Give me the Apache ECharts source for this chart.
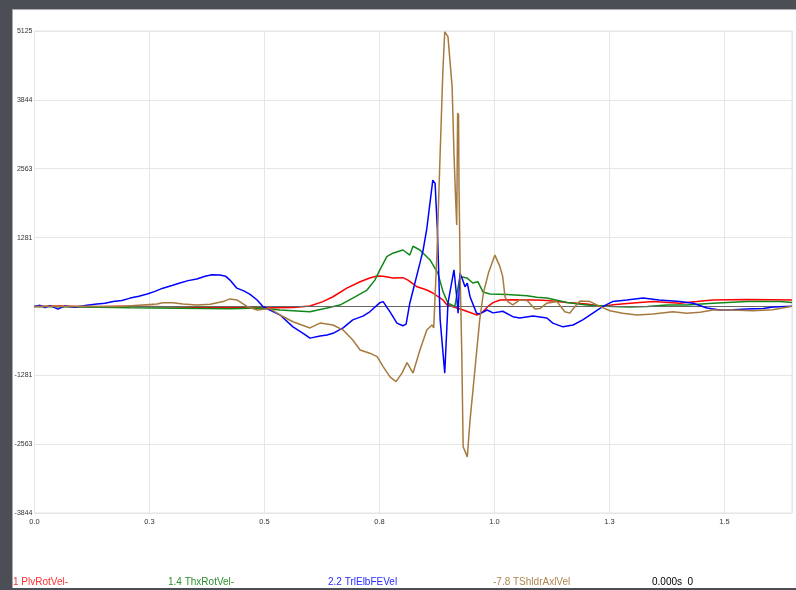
<!DOCTYPE html>
<html>
<head>
<meta charset="utf-8">
<script src="https://cdn.jsdelivr.net/npm/echarts@6/dist/echarts.min.js"></script>
<style>
html,body{margin:0;padding:0;background:#fff;}
#chart{width:796px;height:590px;}
</style>
</head>
<body>
<div id="chart"></div>
<script>
// time (s) / value pairs
var plvRotVel = [
  [0,0],[0.055,10],[0.121,-10],[0.186,5],[0.251,0],[0.316,-10],[0.382,-20],[0.447,-25],
  [0.490,-30],[0.562,-20],[0.599,8],[0.627,90],[0.649,180],[0.679,340],[0.708,460],[0.729,530],
  [0.745,565],[0.758,560],[0.779,530],[0.801,535],[0.812,490],[0.832,365],[0.853,305],[0.866,250],
  [0.888,120],[0.897,25],[0.910,-5],[0.932,-67],[0.962,-160],[0.975,-100],[0.986,0],[0.997,70],
  [1.012,120],[1.040,125],[1.092,120],[1.114,110],[1.158,75],[1.201,45],[1.236,0],[1.258,30],
  [1.295,60],[1.345,90],[1.403,60],[1.440,90],[1.475,120],[1.549,130],[1.605,125],[1.647,120]
];
var thxRotVel = [
  [0,0],[0.099,-10],[0.208,-25],[0.316,-35],[0.425,-45],[0.490,-30],[0.534,-67],[0.599,-100],
  [0.636,-30],[0.664,25],[0.692,155],[0.723,305],[0.740,490],[0.751,680],[0.766,925],[0.779,990],
  [0.801,1050],[0.816,955],[0.823,1120],[0.838,1050],[0.860,865],[0.877,620],[0.888,280],[0.899,60],
  [0.914,0],[0.925,555],[0.940,530],[0.953,435],[0.964,460],[0.975,270],[0.990,230],[1.027,220],
  [1.071,200],[1.092,170],[1.114,155],[1.158,75],[1.201,25],[1.258,0],[1.295,-10],[1.332,0],
  [1.375,25],[1.418,25],[1.475,60],[1.549,90],[1.621,90],[1.647,75]
];
var trlElbFEVel = [
  [0,0],[0.012,20],[0.023,-20],[0.034,15],[0.051,-50],[0.066,10],[0.088,-15],[0.114,20],
  [0.136,45],[0.153,60],[0.171,90],[0.190,110],[0.208,155],[0.227,190],[0.245,230],[0.262,280],
  [0.279,340],[0.299,390],[0.316,435],[0.334,480],[0.353,510],[0.371,560],[0.386,590],[0.403,585],
  [0.416,560],[0.425,490],[0.440,340],[0.455,290],[0.468,230],[0.484,120],[0.497,-5],[0.512,-67],
  [0.534,-160],[0.562,-380],[0.584,-500],[0.599,-590],[0.621,-550],[0.636,-530],[0.649,-500],[0.671,-400],
  [0.692,-250],[0.714,-180],[0.729,-100],[0.751,70],[0.758,90],[0.773,-100],[0.788,-310],[0.801,-360],
  [0.808,-330],[0.816,60],[0.838,805],[0.845,1050],[0.853,1450],[0.866,2350],[0.871,2290],[0.876,1420],
  [0.882,-250],[0.892,-1240],[0.899,60],[0.912,680],[0.918,180],[0.921,-125],[0.925,620],[0.931,490],
  [0.936,365],[0.941,435],[0.947,180],[0.961,-125],[0.968,-140],[0.984,-67],[0.997,-120],[1.012,-100],
  [1.018,-90],[1.040,-190],[1.055,-215],[1.084,-180],[1.114,-215],[1.127,-310],[1.149,-380],[1.171,-345],
  [1.192,-250],[1.214,-125],[1.236,0],[1.257,90],[1.288,120],[1.323,155],[1.358,120],[1.403,90],
  [1.432,60],[1.462,-30],[1.490,-67],[1.518,-60],[1.549,-50],[1.584,-40],[1.606,-10],[1.647,5]
];
var tShldrAxlVel = [
  [0,0],[0.099,5],[0.186,0],[0.266,45],[0.279,70],[0.301,70],[0.323,45],[0.353,25],
  [0.382,40],[0.410,90],[0.425,140],[0.440,120],[0.462,0],[0.484,-67],[0.512,-40],[0.534,-160],
  [0.562,-285],[0.599,-400],[0.621,-310],[0.649,-345],[0.671,-440],[0.692,-625],[0.708,-810],[0.729,-870],
  [0.745,-935],[0.758,-1120],[0.773,-1310],[0.786,-1400],[0.799,-1240],[0.810,-1045],[0.823,-1240],[0.838,-810],
  [0.853,-440],[0.864,-345],[0.868,-400],[0.875,990],[0.882,2850],[0.888,4400],[0.892,5110],[0.899,5020],
  [0.908,4090],[0.912,2850],[0.916,1920],[0.918,1515],[0.920,3600],[0.922,3560],[0.923,2230],[0.926,365],
  [0.929,-870],[0.932,-2610],[0.941,-2800],[0.947,-2115],[0.954,-1495],[0.961,-870],[0.968,-250],[0.976,250],
  [0.987,620],[1.001,955],[1.012,740],[1.018,555],[1.023,180],[1.029,90],[1.040,30],[1.055,120],
  [1.071,110],[1.088,-50],[1.099,-40],[1.114,60],[1.136,90],[1.153,-100],[1.164,-125],[1.175,0],
  [1.186,100],[1.208,90],[1.229,0],[1.251,-80],[1.279,-125],[1.310,-160],[1.345,-140],[1.388,-100],
  [1.418,-125],[1.447,-110],[1.475,-67],[1.518,-67],[1.562,-80],[1.605,-60],[1.647,5]
];
var seriesNames = ['PlvRotVel', 'ThxRotVel', 'TrlElbFEVel', 'TShldrAxlVel'];
var legendLabels = ['1 PlvRotVel-', '1.4 ThxRotVel-', '2.2 TrlElbFEVel', '-7.8 TShldrAxlVel', '0.000s  0'];
var yMin = -3843.75, yMax = 5125, yStep = 1281.25;
var xMin = 0, xMax = 1.647, xStep = 0.25;

var lineColors = ['#ff0000', '#11881a', '#0000ff', '#a67a3e'];
var legendColors = ['#ff3030', '#2e8f2e', '#2a2aff', '#ae8650', '#000000'];
var legendX = [13, 168, 328, 493, 652];

var chart = echarts.init(document.getElementById('chart'), null, {renderer: 'canvas'});
var allData = [plvRotVel, thxRotVel, trlElbFEVel, tShldrAxlVel];
var series = allData.map(function (d, i) {
  var s = {
    name: seriesNames[i], type: 'line', data: d, showSymbol: false, symbol: 'none',
    lineStyle: {color: lineColors[i], width: 1.5}, itemStyle: {color: lineColors[i]},
    animation: false, z: 3 + i
  };
  if (i === 0) {
    s.markLine = {
      silent: true, symbol: ['none', 'none'], label: {show: false},
      lineStyle: {color: '#666666', width: 1, type: 'solid'},
      data: [{yAxis: 0}], animation: false
    };
  }
  return s;
});

var graphics = [
  {type: 'rect', shape: {x: 0, y: 0, width: 796, height: 9}, style: {fill: '#4b4e55'}, z: 100},
  {type: 'rect', shape: {x: 0, y: 9, width: 796, height: 1}, style: {fill: '#a9abae'}, z: 100},
  {type: 'rect', shape: {x: 0, y: 0, width: 12, height: 590}, style: {fill: '#4b4e55'}, z: 100},
  {type: 'rect', shape: {x: 12, y: 9, width: 1, height: 581}, style: {fill: '#a9abae'}, z: 100},
  {type: 'rect', shape: {x: 0, y: 588, width: 796, height: 2}, style: {fill: '#4b4e55'}, z: 100}
];
legendLabels.forEach(function (t, i) {
  graphics.push({
    type: 'text', left: legendX[i], top: 577, z: 100,
    style: {text: t, fill: legendColors[i], font: '10px "Liberation Sans", Arial, sans-serif'}
  });
});

chart.setOption({
  backgroundColor: '#ffffff',
  animation: false,
  grid: {left: 34.5, right: 4, top: 31, bottom: 77, show: true, borderColor: '#e2e2e2', borderWidth: 1},
  xAxis: {
    type: 'value', min: xMin, max: xMax, interval: xStep,
    axisLine: {show: false}, axisTick: {show: false},
    splitLine: {show: true, lineStyle: {color: '#e6e6e6', width: 1}},
    axisLabel: {
      showMaxLabel: false, margin: 5, color: '#333333', fontSize: 7.5,
      fontFamily: '"Liberation Sans", Arial, sans-serif',
      formatter: function (v) { return v.toFixed(1); }
    }
  },
  yAxis: {
    type: 'value', min: yMin, max: yMax, interval: yStep,
    axisLine: {show: false}, axisTick: {show: false},
    splitLine: {show: true, lineStyle: {color: '#e6e6e6', width: 1}},
    axisLabel: {
      margin: 2, color: '#333333', fontSize: 7,
      fontFamily: '"Liberation Sans", Arial, sans-serif',
      formatter: function (v) {
        if (Math.abs(v) < 1e-6) return '';
        var r = Math.round(Math.abs(v));
        return (v < 0 ? '-' : '') + r;
      }
    }
  },
  series: series,
  graphic: graphics
});
</script>
</body>
</html>
